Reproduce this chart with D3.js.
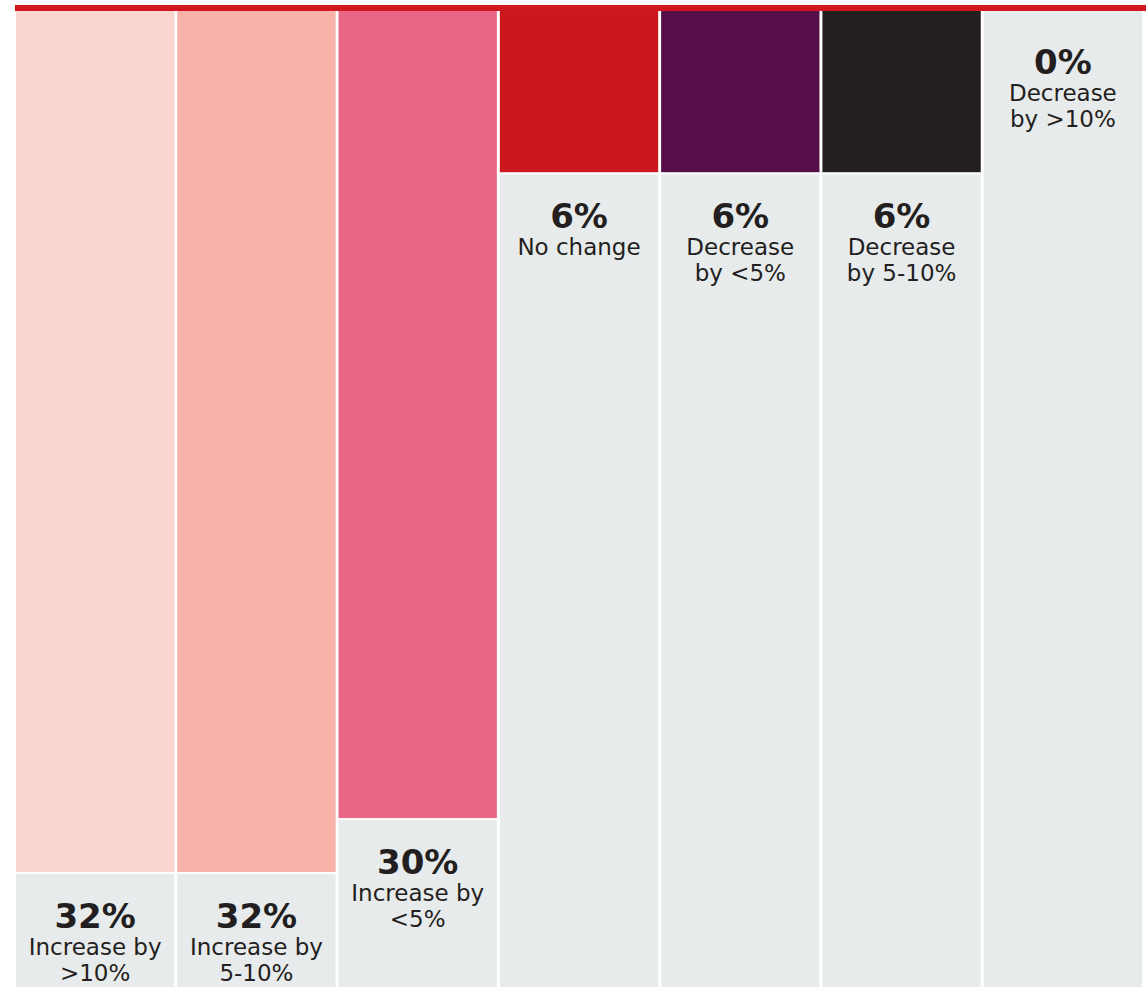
<!DOCTYPE html>
<html>
<head>
<meta charset="utf-8">
<script src="https://cdn.jsdelivr.net/npm/d3@7/dist/d3.min.js"></script>
<style>
  html, body { margin: 0; padding: 0; background: #ffffff; }
  svg { display: block; }
</style>
</head>
<body>
<div id="chart"></div>
<script>
// Share of respondents by expected change
const categories = ["inc10", "inc5to10", "inc5", "none", "dec5", "dec5to10", "dec10"];
const values = [32, 32, 30, 6, 6, 6, 0];
const labelLines = [
  ["Increase by", ">10%"],
  ["Increase by", "5-10%"],
  ["Increase by", "<5%"],
  ["No change"],
  ["Decrease", "by <5%"],
  ["Decrease", "by 5-10%"],
  ["Decrease", "by >10%"]
];
const colors = ["#fbd6cf", "#f7b2aa", "#e96785", "#cd171f", "#560f49", "#231f20", "#231f20"];

const width = 1146, height = 987;
const plotTop = 11, plotBottom = height;

const svg = d3.select("#chart").append("svg")
  .attr("width", width)
  .attr("height", height);

const x = d3.scaleBand()
  .domain(categories)
  .range([16, 1142])
  .paddingInner(0.0186)
  .paddingOuter(0);

const y = d3.scaleLinear()
  .domain([0, 32])
  .range([plotTop, 872]);

const data = categories.map((c, i) => ({ key: c, value: values[i], lines: labelLines[i], color: colors[i] }));

// grey column backgrounds
svg.selectAll("rect.bg")
  .data(data)
  .join("rect")
  .attr("class", "bg")
  .attr("x", d => x(d.key))
  .attr("y", plotTop)
  .attr("width", x.bandwidth())
  .attr("height", plotBottom - plotTop)
  .attr("fill", "#e8ebec");

// value bars hanging from the top rule
svg.selectAll("rect.bar")
  .data(data)
  .join("rect")
  .attr("class", "bar")
  .attr("x", d => x(d.key))
  .attr("y", plotTop)
  .attr("width", x.bandwidth())
  .attr("height", d => y(d.value) - plotTop)
  .attr("fill", d => d.color);

// white gap between bar and label cell
svg.selectAll("rect.gap")
  .data(data.filter(d => d.value > 0))
  .join("rect")
  .attr("class", "gap")
  .attr("x", d => x(d.key))
  .attr("y", d => y(d.value))
  .attr("width", x.bandwidth())
  .attr("height", 2)
  .attr("fill", "#ffffff");

// top rule
svg.append("rect")
  .attr("x", 15)
  .attr("y", 5)
  .attr("width", width - 15)
  .attr("height", 6)
  .attr("fill", "#d0171f");

// labels below each bar
const labels = svg.selectAll("g.label")
  .data(data)
  .join("g")
  .attr("class", "label")
  .attr("transform", d => `translate(${x(d.key) + x.bandwidth() / 2},${y(d.value) + (d.value > 0 ? 56 : 63)})`);

labels.append("text")
  .attr("text-anchor", "middle")
  .attr("font-family", "'DejaVu Sans', sans-serif")
  .attr("font-weight", "bold")
  .attr("font-size", 34)
  .attr("fill", "#231f20")
  .text(d => d.value + "%");

labels.each(function(d) {
  const g = d3.select(this);
  d.lines.forEach((line, i) => {
    g.append("text")
      .attr("text-anchor", "middle")
      .attr("y", 27 + i * 26)
      .attr("font-family", "'DejaVu Sans', sans-serif")
      .attr("font-size", 23)
      .attr("fill", "#231f20")
      .text(line);
  });
});
</script>
</body>
</html>
